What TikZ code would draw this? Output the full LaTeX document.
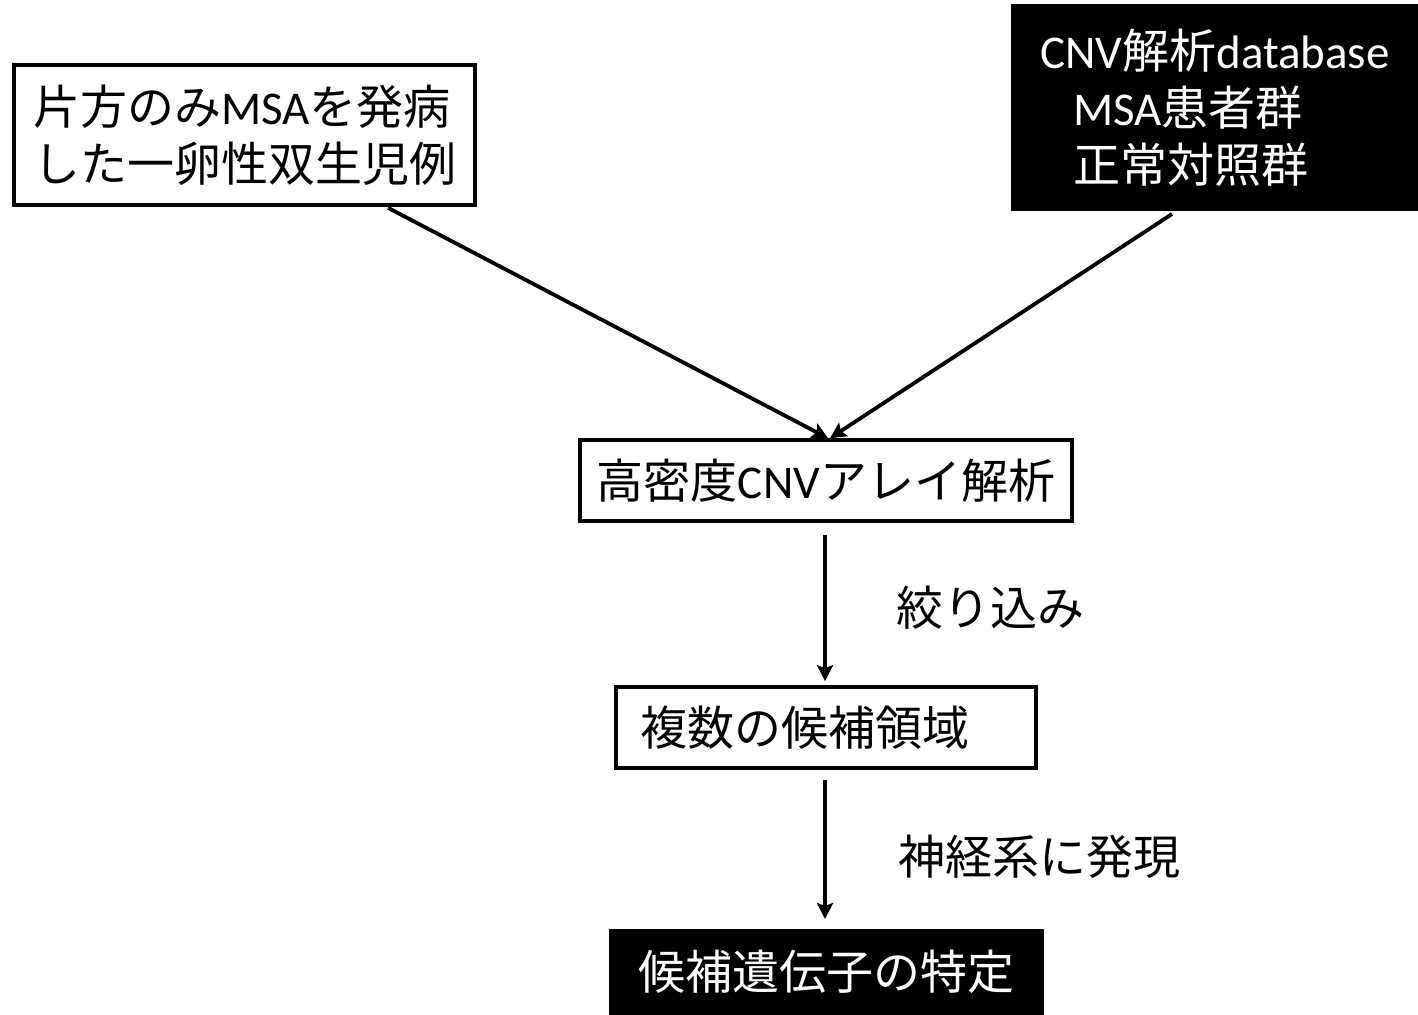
\documentclass[tikz,border=0pt]{standalone}
\usepackage{fontspec}
\setmainfont{Noto Sans CJK JP}
\newfontfamily\carlito{Carlito}
\newcommand\latn[1]{{\carlito #1}}
\usetikzlibrary{arrows.meta,calc}
\begin{document}
\begin{tikzpicture}[x=0.5pt,y=-0.5pt,
  every node/.style={font=\fontsize{23.5pt}{28.5pt}\selectfont},
  whitebox/.style={draw=black,line width=1.8pt,fill=white,inner sep=0pt},
  blackbox/.style={draw=black,line width=1pt,fill=black,text=white,inner sep=0pt},
  arr/.style={line width=1.9pt,-{Stealth[length=8pt,width=8pt,inset=1.5pt]}},
  lbl/.style={anchor=west,inner sep=0pt}]
\useasboundingbox (0,0) rectangle (1418,1014);
\fill[white] (0,0) rectangle (1418,1014);

\node[whitebox,minimum width=230.5pt,minimum height=70pt,align=left] (A) at (244.5,135)
  {片方のみ\latn{MSA}を発病\\した一卵性双生児例};
\node[blackbox,minimum width=203pt,minimum height=102.5pt,align=left] (B) at (1215,107.5)
  {\latn{CNV}解析\latn{database}\\\hspace*{16.5pt}\latn{MSA}患者群\\\hspace*{16.5pt}正常対照群};
\node[whitebox,minimum width=246pt,minimum height=40.5pt] (C) at (826,480.5)
  {高密度\latn{CNV}アレイ解析};
\node[whitebox,text width=186pt,inner xsep=12pt,minimum height=40.5pt,align=left] (D) at (826,727.5)
  {複数の候補領域};
\node[blackbox,minimum width=216.5pt,minimum height=42pt] (E) at (826.5,972)
  {候補遺伝子の特定};

\draw[arr] ($(A.south)+(143.5,1)$) -- ($(C.north)+(2,0)$);
\draw[arr] ($(B.south)+(-43,3)$) -- ($(C.north)+(4,0)$);
\draw[arr] ($(C.south)+(-1,12)$) -- ($(D.north)+(-1,-4)$)
  node[lbl,pos=0.5,xshift=35pt] (L1) {絞り込み};
\draw[arr] ($(D.south)+(-1,10)$) -- ($(E.north)+(-1.5,-10)$)
  node[lbl,pos=0.55,xshift=36pt] (L2) {神経系に発現};
\end{tikzpicture}
\end{document}
